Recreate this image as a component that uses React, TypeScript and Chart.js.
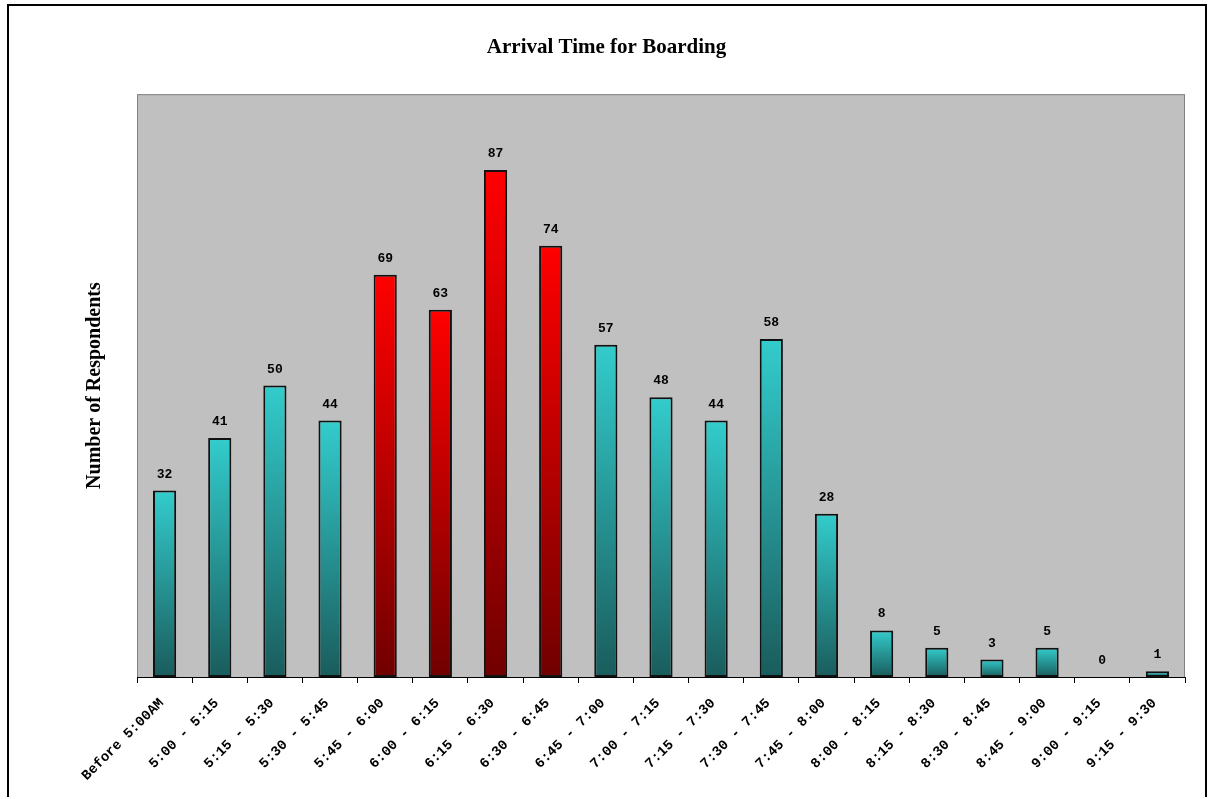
import React, { useEffect, useRef } from "react";
import { Chart, registerables } from "chart.js";

Chart.register(...registerables);

// Arrival windows (15-minute buckets) and respondent counts
const timeSlots: string[] = [
  "Before 5:00AM",
  "5:00 - 5:15",
  "5:15 - 5:30",
  "5:30 - 5:45",
  "5:45 - 6:00",
  "6:00 - 6:15",
  "6:15 - 6:30",
  "6:30 - 6:45",
  "6:45 - 7:00",
  "7:00 - 7:15",
  "7:15 - 7:30",
  "7:30 - 7:45",
  "7:45 - 8:00",
  "8:00 - 8:15",
  "8:15 - 8:30",
  "8:30 - 8:45",
  "8:45 - 9:00",
  "9:00 - 9:15",
  "9:15 - 9:30",
];

const respondents: number[] = [32, 41, 50, 44, 69, 63, 87, 74, 57, 48, 44, 58, 28, 8, 5, 3, 5, 0, 1];

// Peak boarding windows, drawn in red
const peakSlots: string[] = ["5:45 - 6:00", "6:00 - 6:15", "6:15 - 6:30", "6:30 - 6:45"];

const yMin = 0;
const yMax = 100;

const WIDTH = 1213;
const HEIGHT = 799;

const PLOT_LEFT = 137;
const PLOT_BOTTOM = 677;
const SIDE_PAD = 28;

const SERIF = "'Liberation Serif', 'Times New Roman', serif";
const MONO = "'Liberation Mono', 'Courier New', monospace";

const chartBackdrop = {
  id: "chartBackdrop",
  beforeDraw(chart: Chart) {
    const { ctx, chartArea } = chart;
    ctx.save();
    ctx.fillStyle = "#ffffff";
    ctx.fillRect(0, 0, chart.width, chart.height);
    // outer frame (open at the bottom edge)
    ctx.strokeStyle = "#000000";
    ctx.lineWidth = 2;
    ctx.beginPath();
    ctx.moveTo(8, 797);
    ctx.lineTo(8, 5);
    ctx.lineTo(1206, 5);
    ctx.lineTo(1206, 797);
    ctx.stroke();
    // plot area
    ctx.fillStyle = "#c0c0c0";
    ctx.fillRect(chartArea.left, chartArea.top, chartArea.right - chartArea.left, chartArea.bottom - chartArea.top);
    ctx.strokeStyle = "#808080";
    ctx.lineWidth = 1;
    ctx.strokeRect(chartArea.left + 0.5, chartArea.top + 0.5, chartArea.right - chartArea.left - 1, chartArea.bottom - chartArea.top);
    ctx.restore();
  },
};

const valueLabels = {
  id: "valueLabels",
  afterDatasetsDraw(chart: Chart) {
    const { ctx } = chart;
    const meta = chart.getDatasetMeta(0);
    ctx.save();
    ctx.font = `bold 13px ${MONO}`;
    ctx.fillStyle = "#000000";
    ctx.textAlign = "center";
    ctx.textBaseline = "alphabetic";
    meta.data.forEach((bar: any, i: number) => {
      ctx.fillText(String(respondents[i]), bar.x, bar.y - 13);
    });
    ctx.restore();
  },
};

function barFill(context: any) {
  const idx = context.dataIndex;
  const peak = peakSlots.includes(timeSlots[idx]);
  const topColor = peak ? "#ff0000" : "#33cccc";
  const bottomColor = peak ? "#700000" : "#1a5c5c";
  const chart = context.chart;
  const y = chart.scales?.y;
  if (!y || context.type !== "data") return topColor;
  const top = y.getPixelForValue(respondents[idx]);
  const bottom = y.getPixelForValue(0);
  if (!isFinite(top) || !isFinite(bottom) || bottom - top < 1) return topColor;
  const g = chart.ctx.createLinearGradient(0, top, 0, bottom);
  g.addColorStop(0, topColor);
  g.addColorStop(1, bottomColor);
  return g;
}

export default function App() {
  const canvasRef = useRef<HTMLCanvasElement | null>(null);

  useEffect(() => {
    const canvas = canvasRef.current;
    if (!canvas) return;
    const chart = new Chart(canvas, {
      type: "bar",
      data: {
        labels: timeSlots,
        datasets: [
          {
            label: "Number of Respondents",
            data: respondents,
            backgroundColor: barFill,
            borderColor: "#111111",
            borderWidth: 2,
            borderSkipped: false,
            barPercentage: 0.42,
            categoryPercentage: 1,
          },
        ],
      },
      options: {
        responsive: false,
        animation: false,
        devicePixelRatio: 1,
        layout: { padding: { left: SIDE_PAD, right: SIDE_PAD, top: 25, bottom: 0 } },
        plugins: {
          legend: { display: false },
          tooltip: { enabled: false },
          title: {
            display: true,
            text: "Arrival Time for Boarding",
            color: "#000000",
            font: { family: SERIF, size: 21, weight: "bold" },
            padding: { top: 10, bottom: 34 },
          },
        },
        scales: {
          x: {
            grid: {
              display: true,
              drawOnChartArea: false,
              drawTicks: true,
              tickLength: 6,
              color: "#000000",
              offset: true,
            },
            border: { display: true, color: "#000000", width: 1 },
            ticks: {
              autoSkip: false,
              minRotation: 45,
              maxRotation: 45,
              color: "#000000",
              padding: 12,
              labelOffset: -3,
              font: { family: MONO, size: 14, weight: "bold" },
            },
            afterFit(scale: any) {
              scale.height = HEIGHT - PLOT_BOTTOM;
            },
          },
          y: {
            min: yMin,
            max: yMax,
            grid: { display: false, drawTicks: false },
            border: { display: false },
            ticks: { display: false },
            title: {
              display: true,
              text: "Number of Respondents",
              color: "#000000",
              font: { family: SERIF, size: 20, weight: "bold" },
              padding: { top: 55, bottom: 30 },
            },
            afterFit(scale: any) {
              scale.width = PLOT_LEFT - SIDE_PAD;
            },
          },
        },
      },
      plugins: [chartBackdrop, valueLabels],
    });
    return () => chart.destroy();
  }, []);

  return (
    <div style={{ position: "fixed", left: 0, top: 0, width: WIDTH, height: HEIGHT, background: "#ffffff" }}>
      <canvas ref={canvasRef} width={WIDTH} height={HEIGHT} style={{ display: "block", width: WIDTH, height: HEIGHT }} />
    </div>
  );
}
